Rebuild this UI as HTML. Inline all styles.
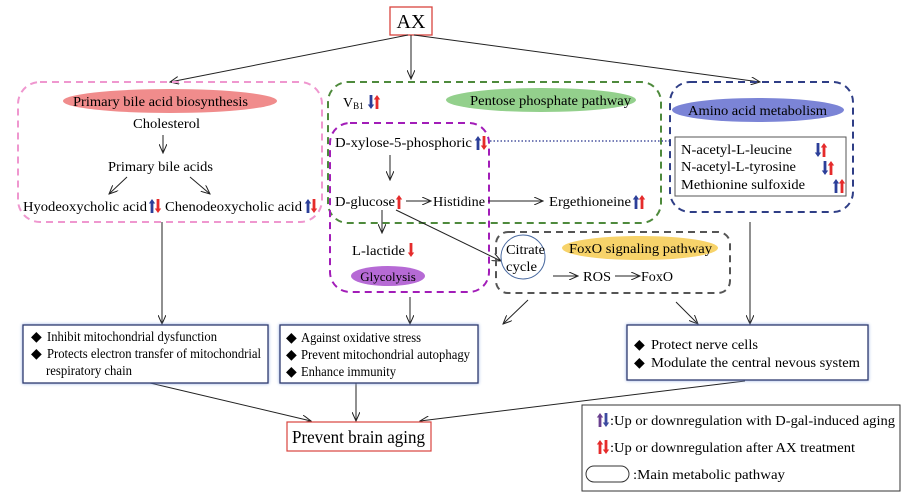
<!DOCTYPE html>
<html><head><meta charset="utf-8"><style>
html,body{margin:0;padding:0;background:#fff;}
svg{display:block;font-family:"Liberation Serif",serif;}
</style></head><body>
<svg width="911" height="494" viewBox="0 0 911 494" xmlns="http://www.w3.org/2000/svg">
<defs>
<marker id="ah" markerWidth="10" markerHeight="8" refX="9" refY="4" orient="auto" markerUnits="userSpaceOnUse">
<path d="M0,0 L9,4 L0,8" fill="none" stroke="#222" stroke-width="1"/></marker>
<symbol id="up" viewBox="-4 -1 8 14" width="8" height="14" overflow="visible"><path d="M-1.4,13 V3.5 H-3.2 L0,-1 L3.2,3.5 H1.4 V13 Z"/></symbol>
<symbol id="dn" viewBox="-4 -1 8 14" width="8" height="14" overflow="visible"><path d="M-1.4,-1 V8.5 H-3.2 L0,13 L3.2,8.5 H1.4 V-1 Z"/></symbol>
</defs>

<!-- AX -->
<rect x="390" y="7" width="42" height="28" fill="#fff" stroke="#d9443e" stroke-width="1.3"/>
<text x="411" y="28" font-size="20" text-anchor="middle">AX</text>
<g stroke="#222" stroke-width="1" fill="none" marker-end="url(#ah)">
<line x1="408" y1="35" x2="170" y2="82"/>
<line x1="411" y1="35" x2="411" y2="79"/>
<line x1="414" y1="35" x2="760" y2="82"/>
</g>

<g font-size="14" lengthAdjust="spacingAndGlyphs">
<!-- pink box -->
<rect x="18" y="82" width="304" height="140" rx="22" fill="none" stroke="#ef97cf" stroke-width="2" stroke-dasharray="7,5"/>
<ellipse cx="170" cy="101" rx="107" ry="12" fill="#f08c8c"/>
<text x="73" y="106" textLength="175" lengthAdjust="spacingAndGlyphs">Primary bile acid biosynthesis</text>
<text x="133" y="128" textLength="67" lengthAdjust="spacingAndGlyphs">Cholesterol</text>
<text x="108" y="171" textLength="105" lengthAdjust="spacingAndGlyphs">Primary bile acids</text>
<text x="23" y="211" textLength="124" lengthAdjust="spacingAndGlyphs">Hyodeoxycholic acid</text>
<text x="165" y="211" textLength="137" lengthAdjust="spacingAndGlyphs">Chenodeoxycholic acid</text>
<g stroke="#222" stroke-width="1" fill="none" marker-end="url(#ah)">
<line x1="163" y1="135" x2="163" y2="153"/>
<line x1="127" y1="177" x2="109" y2="194"/>
<line x1="190" y1="177" x2="210" y2="194"/>
</g>
<use href="#up" x="148" y="199" fill="#2c3f99"/><use href="#dn" x="154" y="199" fill="#e52b2b"/>
<use href="#up" x="304" y="199" fill="#2c3f99"/><use href="#dn" x="310" y="199" fill="#e52b2b"/>

<!-- green box -->
<rect x="328" y="82" width="333" height="141" rx="20" fill="none" stroke="#4e8a3c" stroke-width="2" stroke-dasharray="7,5"/>
<ellipse cx="541" cy="100" rx="95" ry="12" fill="#93d08c"/>
<text x="470" y="105" textLength="161" lengthAdjust="spacingAndGlyphs">Pentose phosphate pathway</text>
<text x="343" y="107">V<tspan font-size="9" dy="2">B1</tspan></text>
<use href="#dn" x="367" y="95" fill="#2c3f99"/><use href="#up" x="373" y="95" fill="#e52b2b"/>

<!-- purple box -->
<rect x="330" y="123" width="159" height="169" rx="20" fill="none" stroke="#a21db8" stroke-width="2" stroke-dasharray="7,5"/>
<text x="335" y="147" textLength="137" lengthAdjust="spacingAndGlyphs">D-xylose-5-phosphoric</text>
<use href="#up" x="474" y="136" fill="#2c3f99"/><use href="#dn" x="480" y="136" fill="#e52b2b"/>
<line x1="490" y1="141" x2="672" y2="141" stroke="#4a55a0" stroke-width="1.5" stroke-dasharray="1.5,2"/>
<text x="335" y="206" textLength="60" lengthAdjust="spacingAndGlyphs">D-glucose</text>
<use href="#up" x="395" y="195" fill="#e52b2b"/>
<text x="433" y="206" textLength="52" lengthAdjust="spacingAndGlyphs">Histidine</text>
<text x="549" y="206" textLength="82" lengthAdjust="spacingAndGlyphs">Ergethioneine</text>
<use href="#up" x="632" y="195" fill="#2c3f99"/><use href="#up" x="638" y="195" fill="#e52b2b"/>
<text x="352" y="255" textLength="53" lengthAdjust="spacingAndGlyphs">L-lactide</text>
<use href="#dn" x="407" y="243" fill="#e52b2b"/>
<ellipse cx="388" cy="276" rx="37" ry="10" fill="#b66ad5"/>
<text x="388" y="281" font-size="13" text-anchor="middle">Glycolysis</text>
<g stroke="#222" stroke-width="1" fill="none" marker-end="url(#ah)">
<line x1="390" y1="155" x2="390" y2="180"/>
<line x1="406" y1="201" x2="431" y2="201"/>
<line x1="488" y1="201" x2="543" y2="201"/>
<line x1="382" y1="210" x2="382" y2="233"/>
<line x1="396" y1="210" x2="501" y2="261"/>
<line x1="553" y1="276" x2="578" y2="276"/>
<line x1="615" y1="276" x2="640" y2="276"/>
</g>

<!-- gray box -->
<rect x="496" y="232" width="234" height="61" rx="12" fill="none" stroke="#555" stroke-width="2" stroke-dasharray="7,5"/>
<circle cx="523" cy="257" r="22" fill="#fff" stroke="#4a6aa0" stroke-width="1"/>
<text x="506" y="254" textLength="39" lengthAdjust="spacingAndGlyphs">Citrate</text>
<text x="506" y="271" textLength="31" lengthAdjust="spacingAndGlyphs">cycle</text>
<ellipse cx="640" cy="248" rx="78" ry="12" fill="#f7d36a"/>
<text x="569" y="253" textLength="143" lengthAdjust="spacingAndGlyphs">FoxO signaling pathway</text>
<text x="583" y="281" textLength="28" lengthAdjust="spacingAndGlyphs">ROS</text>
<text x="641" y="281" textLength="32" lengthAdjust="spacingAndGlyphs">FoxO</text>

<!-- blue box -->
<rect x="670" y="82" width="183" height="130" rx="20" fill="none" stroke="#2f3e86" stroke-width="2" stroke-dasharray="7,5"/>
<ellipse cx="758" cy="110" rx="86" ry="12" fill="#7b84d6"/>
<text x="688" y="115" textLength="139" lengthAdjust="spacingAndGlyphs">Amino acid metabolism</text>
<rect x="675" y="137" width="171" height="59" fill="none" stroke="#555" stroke-width="1"/>
<text x="681" y="154" textLength="111" lengthAdjust="spacingAndGlyphs">N-acetyl-L-leucine</text>
<text x="681" y="171" textLength="115" lengthAdjust="spacingAndGlyphs">N-acetyl-L-tyrosine</text>
<text x="681" y="189" textLength="124" lengthAdjust="spacingAndGlyphs">Methionine sulfoxide</text>
<use href="#dn" x="814" y="143" fill="#2c3f99"/><use href="#up" x="820" y="143" fill="#e52b2b"/>
<use href="#dn" x="821" y="161" fill="#2c3f99"/><use href="#up" x="827" y="161" fill="#e52b2b"/>
<use href="#up" x="832" y="179" fill="#2c3f99"/><use href="#up" x="838" y="179" fill="#e52b2b"/>

<!-- arrows to outcome boxes -->
<g stroke="#222" stroke-width="1" fill="none" marker-end="url(#ah)">
<line x1="162" y1="222" x2="162" y2="324"/>
<line x1="410" y1="297" x2="410" y2="324"/>
<line x1="528" y1="300" x2="503" y2="324"/>
<line x1="676" y1="302" x2="698" y2="324"/>
<line x1="750" y1="222" x2="750" y2="324"/>
<line x1="150" y1="383" x2="311" y2="421"/>
<line x1="356" y1="383" x2="356" y2="421"/>
<line x1="745" y1="381" x2="420" y2="421"/>
</g>

<!-- outcome boxes -->
<g fill="#fff" stroke="#2e3a6e" stroke-width="1.3">
<rect x="23" y="325" width="245" height="58" style="filter:drop-shadow(0 0 1.5px #8fa8e0)"/>
<rect x="280" y="325" width="198" height="58" style="filter:drop-shadow(0 0 1.5px #8fa8e0)"/>
<rect x="627" y="325" width="241" height="55" style="filter:drop-shadow(0 0 1.5px #8fa8e0)"/>
</g>
<text x="31" y="341">◆</text><text x="47" y="341" textLength="170" lengthAdjust="spacingAndGlyphs">Inhibit mitochondrial dysfunction</text>
<text x="31" y="358">◆</text><text x="47" y="358" textLength="214" lengthAdjust="spacingAndGlyphs">Protects electron transfer of mitochondrial</text>
<text x="46" y="375" textLength="86" lengthAdjust="spacingAndGlyphs">respiratory chain</text>
<text x="286" y="342">◆</text><text x="301" y="342" textLength="120" lengthAdjust="spacingAndGlyphs">Against oxidative stress</text>
<text x="286" y="359">◆</text><text x="301" y="359" textLength="169" lengthAdjust="spacingAndGlyphs">Prevent mitochondrial autophagy</text>
<text x="286" y="376">◆</text><text x="301" y="376" textLength="95" lengthAdjust="spacingAndGlyphs">Enhance immunity</text>
<text x="634" y="349">◆</text><text x="651" y="349" textLength="107" lengthAdjust="spacingAndGlyphs">Protect nerve cells</text>
<text x="634" y="367">◆</text><text x="651" y="367" textLength="209" lengthAdjust="spacingAndGlyphs">Modulate the central nevous system</text>

<!-- prevent -->
<rect x="287" y="422" width="144" height="29" fill="#fff" stroke="#d9443e" stroke-width="1.2"/>
<text x="292" y="443" font-size="18" textLength="133" lengthAdjust="spacingAndGlyphs">Prevent brain aging</text>

<!-- legend -->
<rect x="582" y="405" width="318" height="86" fill="#fff" stroke="#333" stroke-width="1"/>
<use href="#up" x="596" y="413" fill="#6a3f8f"/><use href="#dn" x="602" y="413" fill="#3c4aa0"/>
<text x="610" y="425" textLength="285" lengthAdjust="spacingAndGlyphs">:Up or downregulation with D-gal-induced aging</text>
<use href="#up" x="596" y="440" fill="#e52b2b"/><use href="#dn" x="602" y="440" fill="#e52b2b"/>
<text x="610" y="452" textLength="245" lengthAdjust="spacingAndGlyphs">:Up or downregulation after AX treatment</text>
<rect x="586" y="466" width="43" height="16" rx="8" fill="none" stroke="#333" stroke-width="1"/>
<text x="633" y="479" textLength="152" lengthAdjust="spacingAndGlyphs">:Main metabolic pathway</text>
</g>
</svg>
</body></html>
